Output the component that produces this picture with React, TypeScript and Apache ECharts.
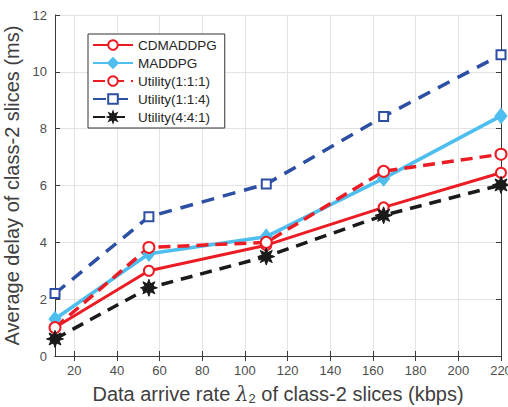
import React, { useEffect, useRef } from 'react';
import * as echarts from 'echarts';

const xValues = [11, 55, 110, 165, 220];
const cdmaddpg = [1.0, 3.0, 3.9, 5.23, 6.45];
const maddpg = [1.3, 3.6, 4.2, 6.25, 8.45];
const util111 = [1.0, 3.82, 4.0, 6.5, 7.1];
const util114 = [2.2, 4.9, 6.05, 8.43, 10.6];
const util441 = [0.6, 2.4, 3.5, 4.95, 6.02];
const seriesNames = ['CDMADDPG', 'MADDPG', 'Utility(1:1:1)', 'Utility(1:1:4)', 'Utility(4:4:1)'];
const xTicks = [20, 40, 60, 80, 100, 120, 140, 160, 180, 200, 220];

function starPath(points: number, rOut: number, rIn: number): string {
  const pts: string[] = [];
  for (let i = 0; i < points * 2; i++) {
    const r = i % 2 === 0 ? rOut : rIn;
    const a = (Math.PI * i) / points - Math.PI / 2;
    pts.push(`${(r * Math.cos(a)).toFixed(2)} ${(r * Math.sin(a)).toFixed(2)}`);
  }
  return 'path://M' + pts.join(' L') + ' Z';
}

const RED = '#EC1C24';
const LBLUE = '#4DBEEE';
const DBLUE = '#2C4FA3';
const BLACK = '#1a1a1a';
const FONT = 'Liberation Sans, Arial, sans-serif';

const pair = (arr: number[]) => xValues.map((x, i) => [x, arr[i]]);

export default function App() {
  const ref = useRef<HTMLDivElement>(null);
  useEffect(() => {
    if (!ref.current) return;
    const chart = echarts.init(ref.current, undefined, { renderer: 'svg' });
    const axisColor = '#3a3a3a';
    const labelColor = '#4d4d4d';
    chart.setOption({
      animation: false,
      textStyle: { fontFamily: FONT },
      grid: { left: 55, right: 7, top: 15, bottom: 51, outerBoundsMode: 'none', containLabel: false },
      legend: {
        orient: 'vertical',
        left: 88,
        top: 34,
        padding: [4, 8, 4, 4],
        itemWidth: 40,
        itemHeight: 12,
        itemGap: 4,
        borderColor: '#333',
        borderWidth: 1,
        backgroundColor: '#fff',
        textStyle: { fontSize: 13.5, color: '#262626', fontFamily: FONT },
        data: seriesNames,
      },
      xAxis: [
        {
          type: 'value',
          min: 11,
          max: 220,
          position: 'bottom',
          axisLine: { show: true, lineStyle: { color: axisColor, width: 1 } },
          axisTick: { show: true, inside: true, length: 5, customValues: xTicks, lineStyle: { color: axisColor } },
          axisLabel: { customValues: xTicks, fontSize: 13, color: labelColor, margin: 8, fontFamily: FONT },
          splitLine: { show: true, lineStyle: { color: '#e3e3e3', width: 1 } },
          name: 'Data arrive rate {l|λ}{s|2} of class-2 slices (kbps)',
          nameLocation: 'middle',
          nameGap: 26,
          nameTextStyle: {
            fontSize: 20,
            color: '#404040',
            fontFamily: FONT,
            rich: {
              l: { fontSize: 20, fontFamily: 'DejaVu Serif', fontStyle: 'italic', color: '#404040' },
              s: { fontSize: 13, color: '#404040', padding: [10, 0, 0, 0], fontFamily: FONT },
            },
          },
        },
        {
          type: 'value',
          min: 11,
          max: 220,
          position: 'top',
          axisLine: { show: true, lineStyle: { color: axisColor, width: 1 } },
          axisTick: { show: true, inside: true, length: 5, customValues: xTicks, lineStyle: { color: axisColor } },
          axisLabel: { show: false },
          splitLine: { show: false },
        },
      ],
      yAxis: [
        {
          type: 'value',
          min: 0,
          max: 12,
          interval: 2,
          position: 'left',
          axisLine: { show: true, lineStyle: { color: axisColor, width: 1 } },
          axisTick: { show: true, inside: true, length: 5, lineStyle: { color: axisColor } },
          axisLabel: { fontSize: 13, color: labelColor, margin: 8, fontFamily: FONT },
          splitLine: { show: true, lineStyle: { color: '#e3e3e3', width: 1 } },
          name: 'Average delay of class-2 slices (ms)',
          nameLocation: 'middle',
          nameGap: 25,
          nameTextStyle: { fontSize: 20, color: '#404040', fontFamily: FONT },
        },
        {
          type: 'value',
          min: 0,
          max: 12,
          interval: 2,
          position: 'right',
          axisLine: { show: true, lineStyle: { color: axisColor, width: 1 } },
          axisTick: { show: true, inside: true, length: 5, lineStyle: { color: axisColor } },
          axisLabel: { show: false },
          splitLine: { show: false },
        },
      ],
      series: [
        {
          name: seriesNames[0],
          type: 'line',
          data: pair(cdmaddpg),
          symbol: 'emptyCircle',
          symbolSize: 10,
          color: RED,
          lineStyle: { color: RED, width: 3, type: 'solid' },
          itemStyle: { color: RED, borderColor: RED, borderWidth: 2.5 },
        },
        {
          name: seriesNames[1],
          type: 'line',
          data: pair(maddpg),
          symbol: 'diamond',
          symbolSize: [12, 15],
          color: LBLUE,
          lineStyle: { color: LBLUE, width: 3.5, type: 'solid' },
          itemStyle: { color: LBLUE, borderColor: LBLUE, borderWidth: 1 },
        },
        {
          name: seriesNames[2],
          type: 'line',
          data: pair(util111),
          symbol: 'emptyCircle',
          symbolSize: 11,
          color: RED,
          lineStyle: { color: RED, width: 3.5, type: [12, 7] },
          itemStyle: { color: RED, borderColor: RED, borderWidth: 3 },
        },
        {
          name: seriesNames[3],
          type: 'line',
          data: pair(util114),
          symbol: 'emptyRect',
          symbolSize: 9,
          color: DBLUE,
          lineStyle: { color: DBLUE, width: 3.5, type: [13, 9] },
          itemStyle: { color: DBLUE, borderColor: DBLUE, borderWidth: 3.5 },
        },
        {
          name: seriesNames[4],
          type: 'line',
          data: pair(util441),
          symbol: starPath(8, 10, 5),
          symbolSize: 17,
          color: BLACK,
          lineStyle: { color: BLACK, width: 3.5, type: [12, 8] },
          itemStyle: { color: BLACK, borderColor: BLACK, borderWidth: 1 },
        },
      ],
    });
    return () => chart.dispose();
  }, []);
  return <div ref={ref} style={{ width: 508, height: 407, position: 'fixed', left: 0, top: 0, background: '#fff' }} />;
}
